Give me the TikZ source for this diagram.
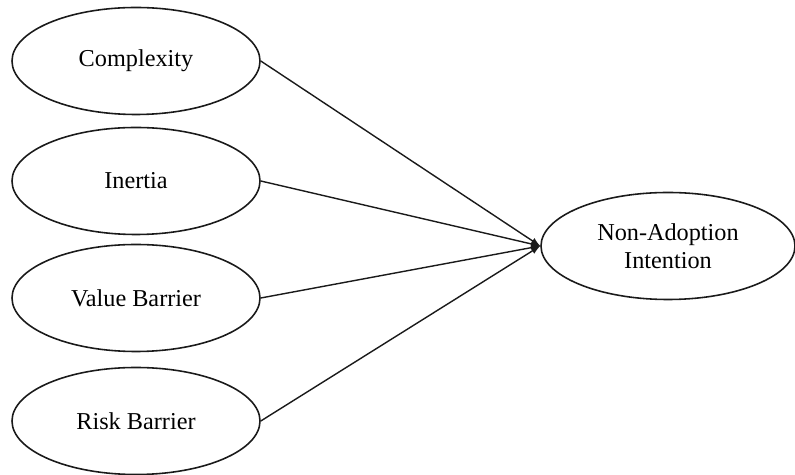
\documentclass[tikz,border=0pt]{standalone}
\usepackage{fontspec}
\setmainfont{Liberation Serif}
\usetikzlibrary{shapes.geometric}
\definecolor{ink}{HTML}{1A1A1A}

\begin{document}
\begin{tikzpicture}[font=\fontsize{13.8}{16}\selectfont,
    factor/.style={draw=ink,ellipse,line width=0.9pt,minimum width=4.96cm,minimum height=2.14cm},
    path/.style={ink,line width=0.8pt,->,>=latex}]
  \useasboundingbox (0,0) rectangle (15.9,9.5);
  % barriers (left column)
  \node[factor] (cx) at (2.72,8.28) {Complexity};
  \node[factor] (in) at (2.72,5.88) {Inertia};
  \node[factor] (vb) at (2.72,3.54) {Value Barrier};
  \node[factor] (rb) at (2.72,1.08) {Risk Barrier};
  % outcome
  \node[factor,minimum width=5.08cm,align=center] (na) at (13.36,4.58) {Non-Adoption\\Intention};
  \foreach \src in {cx,in,vb,rb}
    \draw[path] (\src.east) -- (na.west);
\end{tikzpicture}
\end{document}
